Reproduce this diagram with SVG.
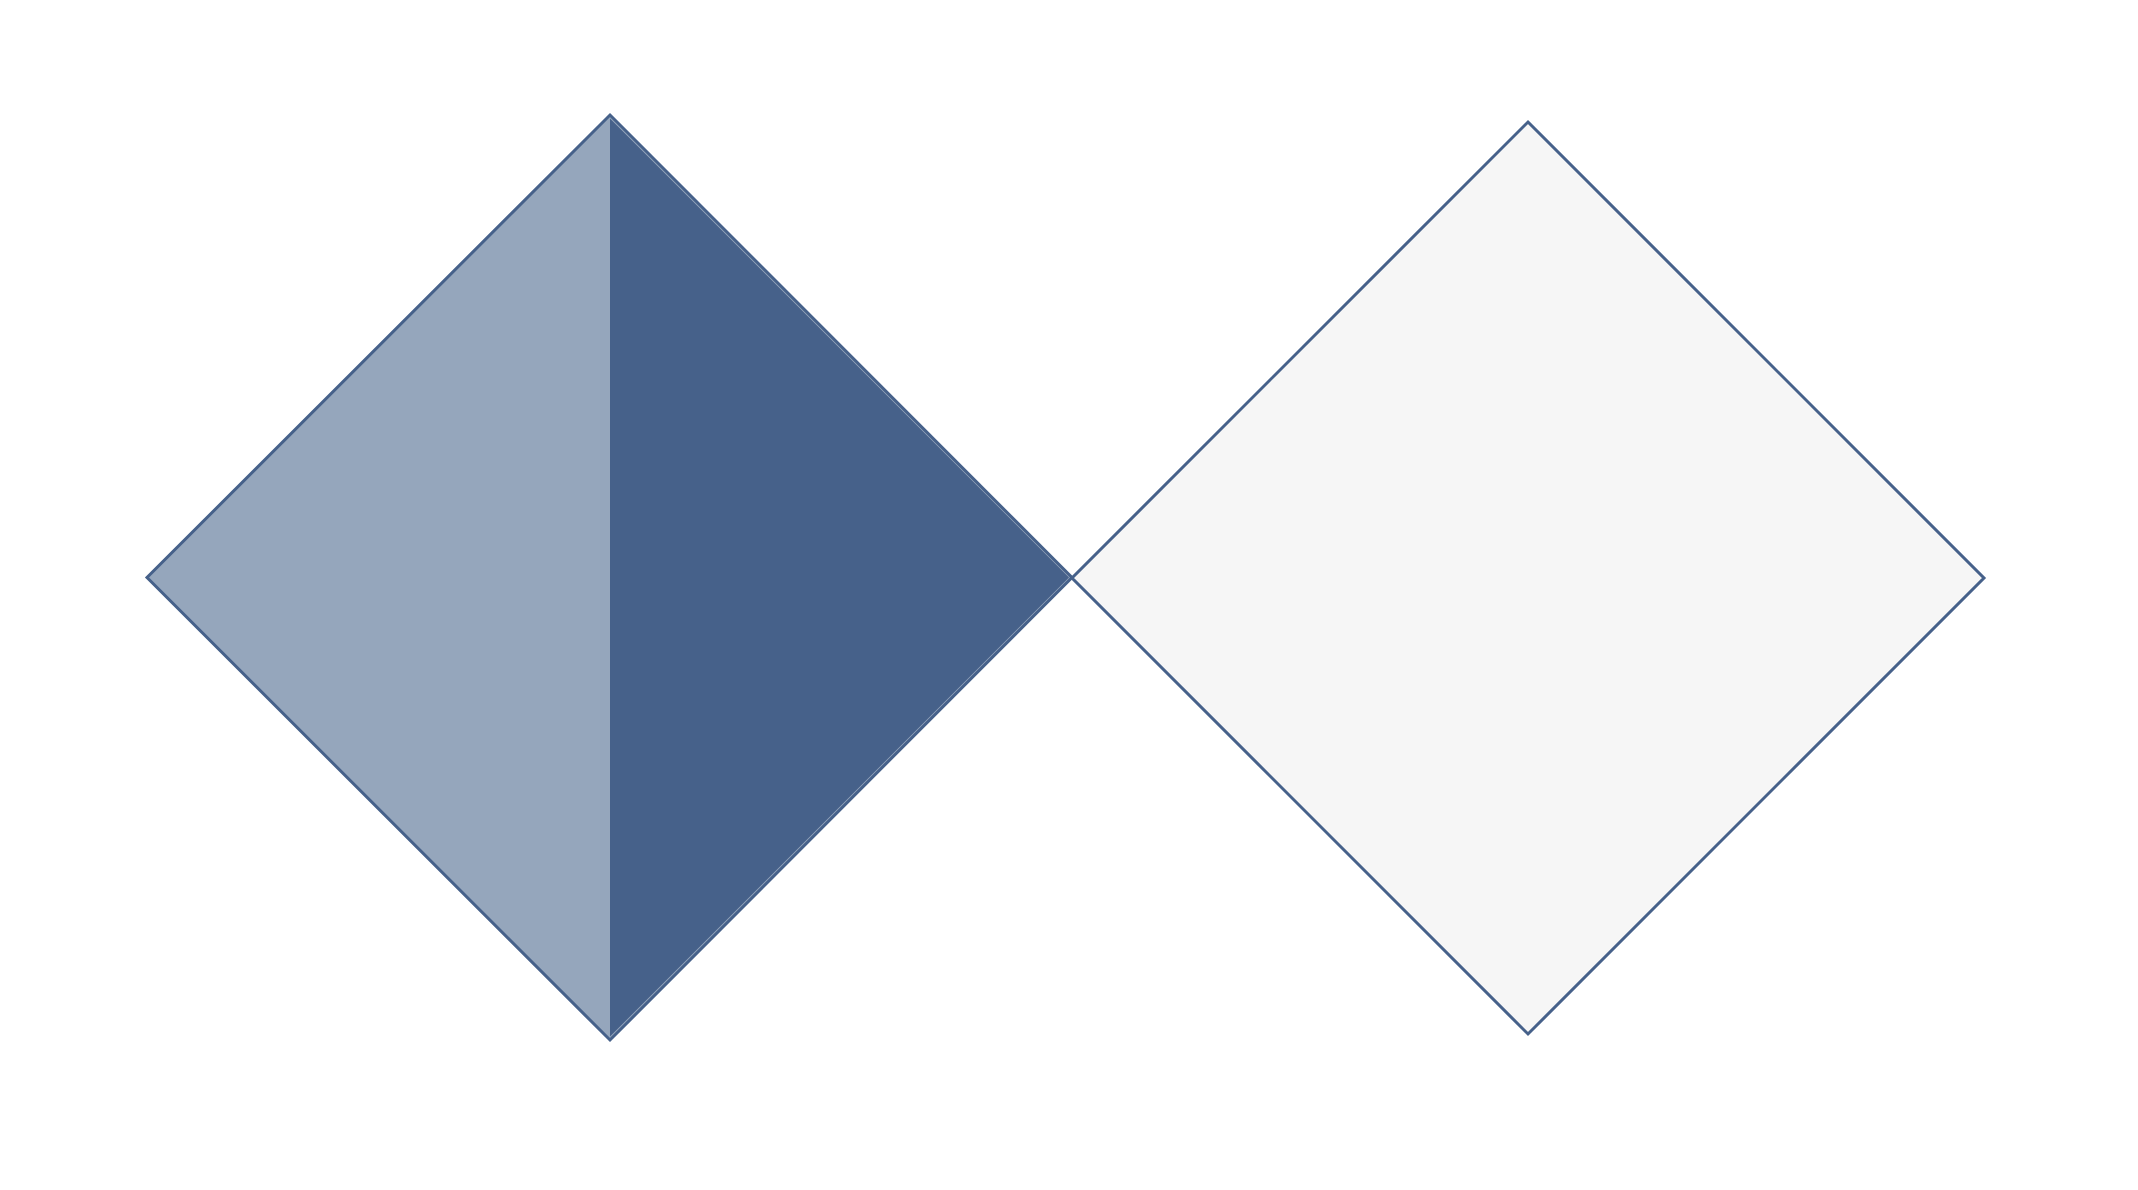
<svg xmlns="http://www.w3.org/2000/svg" width="2138" height="1190" viewBox="0 0 2138 1190">
<style>
.edge{stroke:#46618a;stroke-width:3;stroke-linejoin:miter}
</style>
<rect width="2138" height="1190" fill="#ffffff"/>
<g id="left-diamond">
<polygon class="edge" points="610,115 1072,577.5 610,1040 147,577.5" fill="#95a6bc"/>
<polygon points="610,118.5 1069,577.5 610,1036.5" fill="#46618a"/>
</g>
<g id="right-diamond">
<polygon class="edge" points="1528,122 1984,578 1528,1034 1072,578" fill="#f6f6f6"/>
</g>
<g id="connectors"/>
</svg>
